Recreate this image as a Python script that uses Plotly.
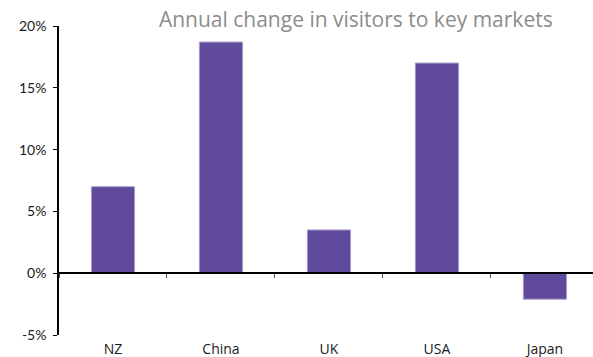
import plotly.graph_objects as go

# Annual change in visitor numbers, by key market (%)
markets = ["NZ", "China", "UK", "USA", "Japan"]
change_pct = [7.0, 18.7, 3.5, 17.0, -2.1]
y_ticks = [-5, 0, 5, 10, 15, 20]
y_tick_labels = ["-5%", "0%", "5%", "10%", "15%", "20%"]

Y_MIN, Y_MAX = -5, 20
BAR_COLOR = "#5F4A9B"
BAR_EDGE = "#A99CCB"

fig = go.Figure()

# the bars themselves
fig.add_trace(go.Bar(
    x=markets, y=change_pct,
    width=0.4,
    marker=dict(color=BAR_COLOR, line=dict(color=BAR_EDGE, width=1)),
    xaxis="x", yaxis="y",
    showlegend=False,
))

# invisible companion trace so the zero-line axis knows the categories
fig.add_trace(go.Scatter(
    x=markets, y=[0] * len(markets), mode="none",
    xaxis="x2", yaxis="y", showlegend=False, hoverinfo="skip",
))

x_range = [-0.5, 4.445]
zero_pos = (0 - Y_MIN) / (Y_MAX - Y_MIN)

fig.update_layout(
    width=593, height=357,
    margin=dict(l=59, r=0, t=26, b=22),
    paper_bgcolor="white", plot_bgcolor="white",
    title=dict(
        text="Annual change in visitors to key markets",
        x=0.6, xanchor="center", y=0.944, yanchor="middle",
        font=dict(family="Open Sans", size=21, color="#8C8C8C"),
    ),
    xaxis=dict(
        type="category", range=x_range,
        showline=False, showgrid=False, zeroline=False, ticks="",
        ticklabelstandoff=4,
        tickfont=dict(family="Open Sans", size=14, color="#1a1a1a"),
    ),
    xaxis2=dict(
        type="category", range=x_range, overlaying="x",
        anchor="free", position=zero_pos,
        showline=True, linecolor="black", linewidth=1.5,
        ticks="outside", tickson="boundaries", ticklen=4,
        tickcolor="#555555", tickwidth=1,
        showticklabels=False, showgrid=False, zeroline=False,
    ),
    yaxis=dict(
        range=[Y_MIN, Y_MAX],
        tickvals=y_ticks, ticktext=y_tick_labels,
        showline=True, linecolor="black", linewidth=1.5,
        ticks="outside", ticklen=4, tickcolor="black",
        ticklabelstandoff=4,
        showgrid=False, zeroline=False,
        tickfont=dict(family="Lato", size=14, color="#1a1a1a"),
    ),
    bargap=0.6,
)

fig.write_html("out.html")
